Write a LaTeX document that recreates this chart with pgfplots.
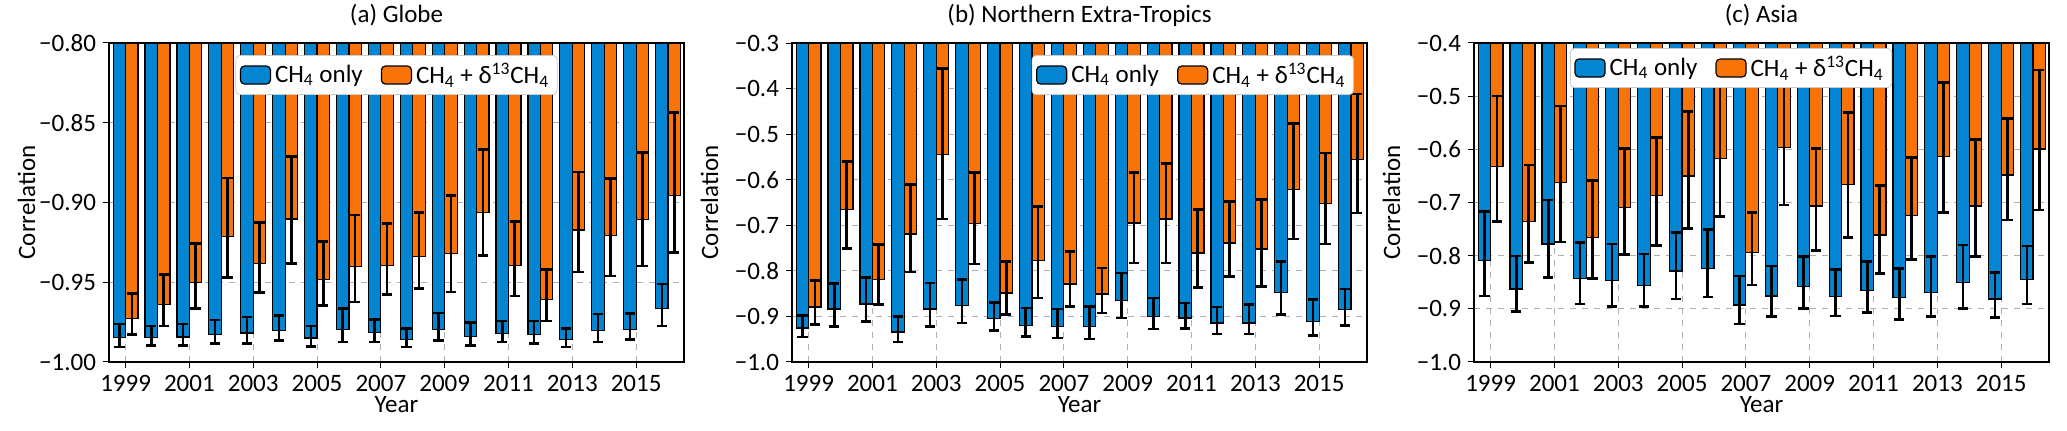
\documentclass[border=0pt]{standalone}
\usepackage{fontspec}
\setmainfont{Carlito}
\usepackage{pgfplots}
\pgfplotsset{compat=1.18}
\usepackage{pgfplotstable}

\definecolor{cblue}{HTML}{0485D1}
\definecolor{corange}{HTML}{F97306}
\definecolor{gridgrey}{HTML}{B0B0B0}
\definecolor{legframe}{HTML}{CCCCCC}

% year, CH4 only (value, err+, err-), CH4 + d13CH4 (value, err+, err-)
\pgfplotstableread{
year bv bp bm ov op om
1999 -0.9847 0.0084 0.0059 -0.9728 0.0157 0.0098
2000 -0.9847 0.0073 0.0048 -0.9640 0.0187 0.0134
2001 -0.9843 0.0080 0.0052 -0.9504 0.0247 0.0161
2002 -0.9828 0.0090 0.0057 -0.9215 0.0369 0.0255
2003 -0.9818 0.0101 0.0067 -0.9380 0.0255 0.0184
2004 -0.9805 0.0098 0.0059 -0.9104 0.0392 0.0278
2005 -0.9849 0.0075 0.0053 -0.9481 0.0237 0.0163
2006 -0.9797 0.0132 0.0077 -0.9403 0.0324 0.0220
2007 -0.9816 0.0082 0.0058 -0.9397 0.0266 0.0178
2008 -0.9858 0.0067 0.0048 -0.9340 0.0278 0.0201
2009 -0.9797 0.0105 0.0067 -0.9319 0.0362 0.0241
2010 -0.9839 0.0086 0.0056 -0.9062 0.0396 0.0272
2011 -0.9822 0.0078 0.0052 -0.9393 0.0273 0.0194
2012 -0.9826 0.0084 0.0059 -0.9606 0.0186 0.0136
2013 -0.9860 0.0069 0.0046 -0.9173 0.0363 0.0262
2014 -0.9805 0.0105 0.0069 -0.9208 0.0360 0.0254
2015 -0.9797 0.0101 0.0061 -0.9106 0.0421 0.0291
2016 -0.9665 0.0155 0.0109 -0.8957 0.0521 0.0356
}\globe

\pgfplotstableread{
year bv bp bm ov op om
1999 -0.9255 0.0271 0.0197 -0.8794 0.0586 0.0387
2000 -0.8838 0.0556 0.0380 -0.6658 0.1061 0.0856
2001 -0.8728 0.0585 0.0380 -0.8194 0.0768 0.0549
2002 -0.9342 0.0344 0.0220 -0.7192 0.1083 0.0834
2003 -0.8838 0.0571 0.0380 -0.5451 0.1888 0.1411
2004 -0.8757 0.0563 0.0388 -0.6965 0.1127 0.0885
2005 -0.9050 0.0359 0.0263 -0.8486 0.0694 0.0476
2006 -0.9196 0.0380 0.0241 -0.7770 0.1186 0.0826
2007 -0.9218 0.0380 0.0256 -0.8289 0.0717 0.0490
2008 -0.9218 0.0439 0.0278 -0.8508 0.0570 0.0417
2009 -0.8655 0.0607 0.0380 -0.6950 0.1112 0.0878
2010 -0.8998 0.0402 0.0279 -0.6862 0.1214 0.0966
2011 -0.9035 0.0329 0.0227 -0.7609 0.0951 0.0753
2012 -0.9145 0.0351 0.0241 -0.7389 0.0914 0.0732
2013 -0.9145 0.0403 0.0241 -0.7521 0.1083 0.0819
2014 -0.8472 0.0680 0.0490 -0.6219 0.1449 0.1082
2015 -0.9116 0.0483 0.0300 -0.6526 0.1112 0.0885
2016 -0.8852 0.0453 0.0344 -0.5560 0.1441 0.1171
}\northext

\pgfplotstableread{
year bv bp bm ov op om
1999 -0.8094 0.0922 0.0665 -0.6326 0.1329 0.1035
2000 -0.8627 0.0621 0.0426 -0.7361 0.1066 0.0771
2001 -0.7781 0.0828 0.0627 -0.6627 0.1442 0.1116
2002 -0.8426 0.0671 0.0483 -0.7655 0.1066 0.0771
2003 -0.8470 0.0689 0.0489 -0.7097 0.1116 0.0878
2004 -0.8564 0.0595 0.0395 -0.6871 0.1097 0.0935
2005 -0.8288 0.0721 0.0527 -0.6502 0.1210 0.0984
2006 -0.8245 0.0740 0.0532 -0.6169 0.1379 0.1097
2007 -0.8928 0.0546 0.0357 -0.7937 0.0752 0.0615
2008 -0.8759 0.0565 0.0388 -0.5962 0.1310 0.1085
2009 -0.8583 0.0564 0.0408 -0.7066 0.1085 0.0840
2010 -0.8771 0.0514 0.0364 -0.6658 0.1348 0.1003
2011 -0.8658 0.0545 0.0408 -0.7611 0.0928 0.0721
2012 -0.8790 0.0552 0.0407 -0.7248 0.1091 0.0821
2013 -0.8696 0.0677 0.0451 -0.6138 0.1392 0.1047
2014 -0.8502 0.0703 0.0489 -0.7066 0.1254 0.0953
2015 -0.8815 0.0495 0.0345 -0.6483 0.1066 0.0846
2016 -0.8445 0.0627 0.0464 -0.5994 0.1486 0.1147
}\asia

\pgfplotsset{
  panel/.style={
    scale only axis, width=287.5pt, height=159.5pt,
    ybar, bar width=0.39,
    xmin=1998.48, xmax=2016.5,
    xtick={1999,2001,...,2015},
    xticklabels={1999,2001,2003,2005,2007,2009,2011,2013,2015},
    tick align=outside, xtick pos=bottom, ytick pos=left,
    major tick length=3pt,
    tick style={black, line width=0.5pt},
    grid=major, grid style={dashed, gridgrey, line width=0.5pt},
    axis line style={line width=0.6pt},
    font=\fontsize{12.5}{14}\selectfont,
    ticklabel style={font=\fontsize{12.5}{14}\selectfont},
    title style={at={(0.5,1.05)}, anchor=center},
    xlabel=Year, ylabel=Correlation,
    every axis x label/.style={at={(axis description cs:0.5,-0.135)}, anchor=center},
    every axis y label/.style={at={(axis description cs:-0.1435,0.5)}, anchor=center, rotate=90},
    legend columns=2,
    legend style={draw=legframe, fill=white, rounded corners=2pt,
      font=\fontsize{12.5}{14}\selectfont, inner sep=2pt,
      /tikz/every even column/.append style={column sep=7pt}},
  },
  bars/.style={draw=black, line width=0.6pt,
    legend image code/.code={\draw[##1] (0pt,-4.5pt) rectangle (15pt,4.5pt);},
    error bars/.cd, y dir=both, y explicit,
    error bar style={black, line width=1.3pt},
    error mark options={black, rotate=90, mark size=2.6pt, line width=1.3pt}},
  bstyle/.style={fill=cblue, bar shift=-0.195, bars},
  ostyle/.style={fill=corange, bar shift=0.195, bars},
}

\begin{document}
\begin{tikzpicture}
\path[use as bounding box] (0,0) rectangle (1033.5pt,215.5pt);

\begin{axis}[panel, at={(54.5pt,34.5pt)}, anchor=south west,
  title={(a) Globe},
  ymin=-1, ymax=-0.8,
  ytick={-1,-0.95,-0.9,-0.85,-0.8},
  yticklabels={−1.00,−0.95,−0.90,−0.85,−0.80},
  legend style={at={(0.5,0.962)}, anchor=north}]
\addplot[bstyle] table[x=year, y=bv, y error plus=bp, y error minus=bm] {\globe};
\addplot[ostyle] table[x=year, y=ov, y error plus=op, y error minus=om] {\globe};
\legend{CH\textsubscript{4} only, CH\textsubscript{4} + δ\textsuperscript{13}CH\textsubscript{4}}
\end{axis}

\begin{axis}[panel, at={(396pt,34.5pt)}, anchor=south west,
  title={(b) Northern Extra-Tropics},
  ymin=-1, ymax=-0.3,
  ytick={-1,-0.9,-0.8,-0.7,-0.6,-0.5,-0.4,-0.3},
  yticklabels={−1.0,−0.9,−0.8,−0.7,−0.6,−0.5,−0.4,−0.3},
  legend style={at={(0.977,0.962)}, anchor=north east}]
\addplot[bstyle] table[x=year, y=bv, y error plus=bp, y error minus=bm] {\northext};
\addplot[ostyle] table[x=year, y=ov, y error plus=op, y error minus=om] {\northext};
\legend{CH\textsubscript{4} only, CH\textsubscript{4} + δ\textsuperscript{13}CH\textsubscript{4}}
\end{axis}

\begin{axis}[panel, at={(737pt,34.5pt)}, anchor=south west,
  title={(c) Asia},
  ymin=-1, ymax=-0.4,
  ytick={-1,-0.9,-0.8,-0.7,-0.6,-0.5,-0.4},
  yticklabels={−1.0,−0.9,−0.8,−0.7,−0.6,−0.5,−0.4},
  legend style={at={(0.167,0.984)}, anchor=north west}]
\addplot[bstyle] table[x=year, y=bv, y error plus=bp, y error minus=bm] {\asia};
\addplot[ostyle] table[x=year, y=ov, y error plus=op, y error minus=om] {\asia};
\legend{CH\textsubscript{4} only, CH\textsubscript{4} + δ\textsuperscript{13}CH\textsubscript{4}}
\end{axis}
\end{tikzpicture}
\end{document}
